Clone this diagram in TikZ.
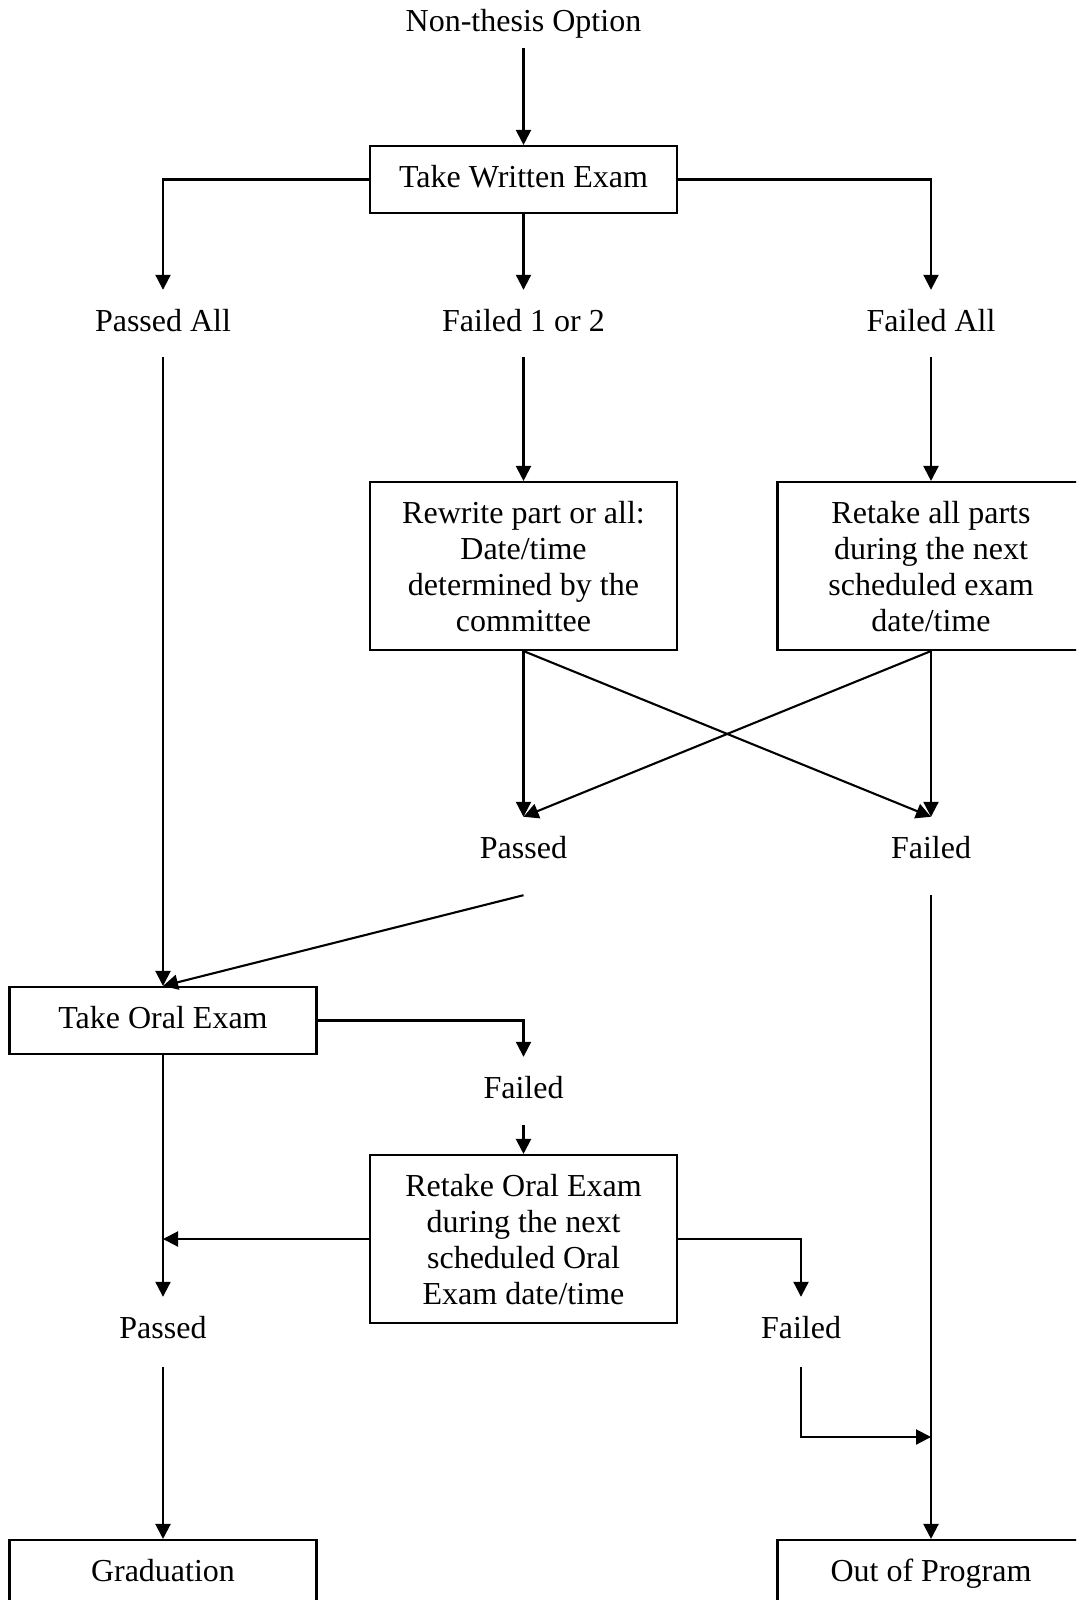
\documentclass[tikz,border=0pt]{standalone}
\usepackage{fontspec}
\setmainfont{Liberation Serif}
\usetikzlibrary{arrows.meta}
\begin{document}
\begin{tikzpicture}[x=1pt,y=-1pt,
  box/.style={draw, line width=2.1pt, minimum width=307pt, inner sep=0pt, align=center, font=\fontsize{32}{36}\selectfont},
  box1/.style={box, minimum height=67pt, text height=22pt, text depth=6pt},
  box4/.style={box, minimum height=168pt, text depth=-4pt},
  lbl/.style={inner sep=0pt, anchor=base, font=\fontsize{32}{36}\selectfont, text height=41pt},
  arr/.style={line width=2.1pt, -{Triangle[length=15pt,width=15pt]}}]
\useasboundingbox (0,0) rectangle (1076,1600);
\clip (0,0) rectangle (1076,1600);

% labels
\node[lbl, text depth=16pt] (nto) at (523.5,32) {Non-thesis Option};
\node[lbl, text depth=26pt] (pa) at (163,331) {Passed All};
\node[lbl, text depth=26pt] (f12) at (523.5,331) {Failed 1 or 2};
\node[lbl, text depth=26pt] (fa) at (931,331) {Failed All};
\node[lbl, text depth=37pt] (p2) at (523.5,858) {Passed};
\node[lbl, text depth=37pt] (f2) at (931,858) {Failed};
\node[lbl, text depth=27pt] (f3) at (523.5,1098) {Failed};
\node[lbl, text depth=29pt] (p3) at (163,1338) {Passed};
\node[lbl, text depth=29pt] (f4) at (801,1338) {Failed};

% boxes
\node[box1] (twe) at (523.5,179.5) {Take Written Exam};
\node[box4] (rw) at (523.5,566) {Rewrite part or all:\\Date/time\\determined by the\\committee};
\node[box4] (rt) at (931,566) {Retake all parts\\during the next\\scheduled exam\\date/time};
\node[box1] (toe) at (163,1020.5) {Take Oral Exam};
\node[box4] (roe) at (523.5,1239) {Retake Oral Exam\\during the next\\scheduled Oral\\Exam date/time};
\node[box1] (grad) at (163,1573.5) {Graduation};
\node[box1] (oop) at (931,1573.5) {Out of Program};

\coordinate (join) at (931,1437);

% connectors
\draw[arr] (nto.south) -- (twe.north);
\draw[arr] (twe.west) -| (pa.north);
\draw[arr] (twe.south) -- (f12.north);
\draw[arr] (twe.east) -| (fa.north);
\draw[arr] (f12.south) -- (rw.north);
\draw[arr] (fa.south) -- (rt.north);
\draw[arr] (pa.south) -- (toe.north);
\draw[arr] (rw.south) -- (p2.north);
\draw[arr] (rw.south) -- (f2.north);
\draw[arr] (rt.south) -- (p2.north);
\draw[arr] (rt.south) -- (f2.north);
\draw[arr] (p2.south) -- (toe.north);
\draw[arr] (toe.east) -| (f3.north);
\draw[arr] (f3.south) -- (roe.north);
\draw[arr] (toe.south) -- (p3.north);
\draw[arr] (roe.west) -- (roe.west -| p3.north);
\draw[arr] (roe.east) -| (f4.north);
\draw[arr] (f4.south) |- (join);
\draw[arr] (f2.south) -- (oop.north);
\draw[arr] (p3.south) -- (grad.north);
\end{tikzpicture}
\end{document}
